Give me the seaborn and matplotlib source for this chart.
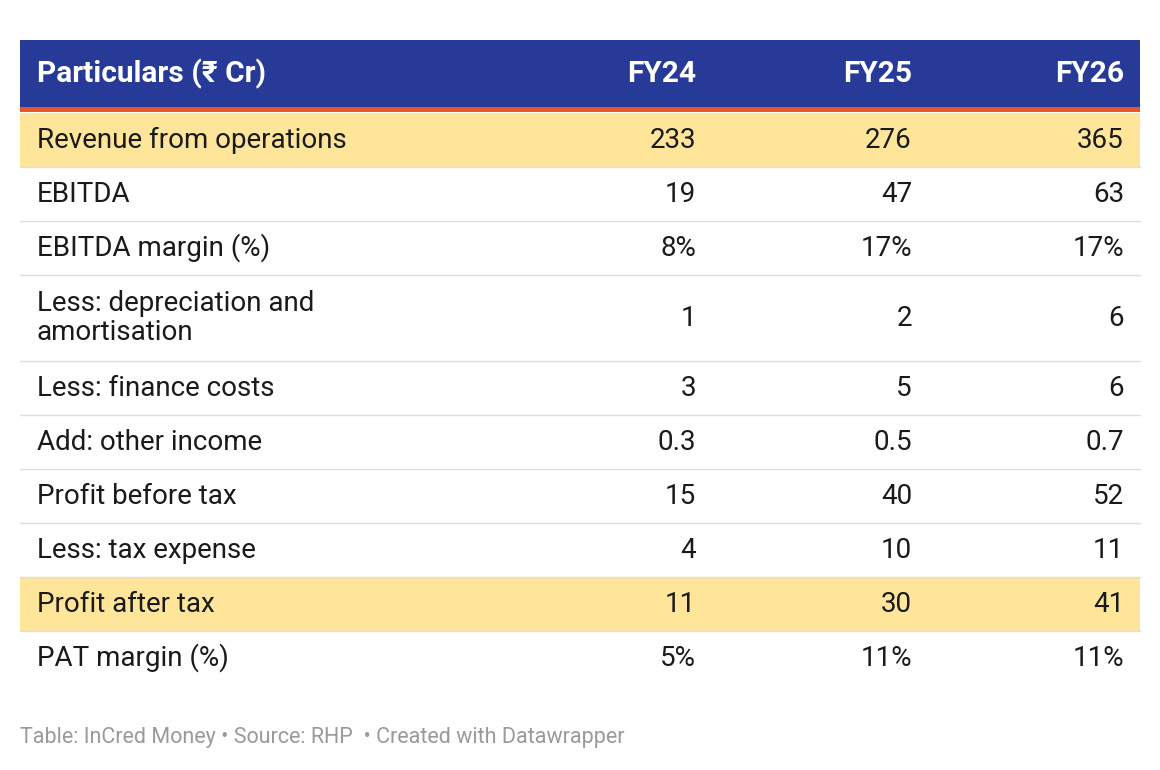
import matplotlib
matplotlib.use("Agg")
from matplotlib import pyplot as plt
from matplotlib.patches import Rectangle
import seaborn as sns

columns = ["FY24", "FY25", "FY26"]
particulars = ["Revenue from operations", "EBITDA", "EBITDA margin (%)",
               "Less: depreciation and\namortisation", "Less: finance costs",
               "Add: other income", "Profit before tax", "Less: tax expense",
               "Profit after tax", "PAT margin (%)"]
fy24 = ["233", "19", "8%", "1", "3", "0.3", "15", "4", "11", "5%"]
fy25 = ["276", "47", "17%", "2", "5", "0.5", "40", "10", "30", "11%"]
fy26 = ["365", "63", "17%", "6", "6", "0.7", "52", "11", "41", "11%"]
highlight = ["Revenue from operations", "Profit after tax"]

sns.set_theme(style="white")
plt.rcParams['font.family'] = ['Roboto', 'DejaVu Sans']

fig = plt.figure(figsize=(11.6, 7.7), dpi=100)
ax = fig.add_axes([0, 0, 1, 1])
ax.set_xlim(0, 1160)
ax.set_ylim(770, 0)
ax.axis('off')

left, right = 20, 1140
col_x = [696, 912, 1124]
fs = 20

# header
ax.add_patch(Rectangle((left, 40), right - left, 67, color="#283a97", lw=0))
ax.add_patch(Rectangle((left, 107), right - left, 5, color="#e8542b", lw=0))
ax.text(37, 74, "Particulars (₹ Cr)", color="white", fontsize=21.5,
        fontweight="bold", va="center")
for x, c in zip(col_x, columns):
    ax.text(x, 74, c, color="white", fontsize=21.5, fontweight="bold",
            va="center", ha="right")

y = 113
for i, name in enumerate(particulars):
    h = 86 if "\n" in name else 54
    if name in highlight:
        ax.add_patch(Rectangle((left, y), right - left, h, color="#fee59a", lw=0))
    ax.text(37, y + h / 2, name, fontsize=fs, color="#1a1a1a", va="center",
            linespacing=1.1)
    for x, vals in zip(col_x, [fy24, fy25, fy26]):
        ax.text(x, y + h / 2, vals[i], fontsize=fs, color="#1a1a1a",
                va="center", ha="right")
    y += h
    if i < len(particulars) - 1:
        ax.plot([left, right], [y, y], color="#dddddd", lw=1)

ax.text(20, 737, "Table: InCred Money • Source: RHP  • Created with Datawrapper",
        fontsize=15.5, color="#9a9a9a", va="center")

fig.savefig("out.png", dpi=100)
